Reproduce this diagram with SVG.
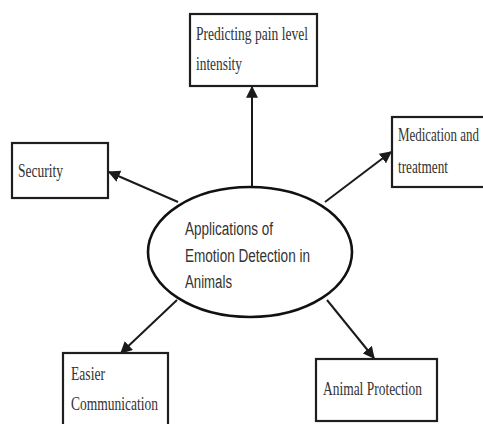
<svg xmlns="http://www.w3.org/2000/svg" width="483" height="424" viewBox="0 0 483 424">
<style>
.box{fill:#fff;stroke:#1e1e1e;stroke-width:2.2}
.ser{font-family:"Liberation Serif","Times New Roman",serif;font-size:18px;fill:#333}
.san{font-family:"Liberation Sans",Arial,sans-serif;font-size:18px;fill:#333}
.con{stroke:#1a1a1a;stroke-width:2;fill:none;marker-end:url(#ah)}
</style>
<defs>
<marker id="ah" viewBox="0 0 10 10" refX="9" refY="5" markerWidth="6" markerHeight="6" orient="auto" markerUnits="strokeWidth">
<path d="M0,0 L10,5 L0,10 Z" fill="#1a1a1a"/>
</marker>
</defs>
<rect width="483" height="424" fill="#fff"/>
<g id="connectors">
<line class="con" x1="252" y1="187" x2="252" y2="87"/>
<line class="con" x1="325" y1="202" x2="391" y2="152"/>
<line class="con" x1="178" y1="202" x2="109" y2="172"/>
<line class="con" x1="177" y1="300" x2="121" y2="353"/>
<line class="con" x1="327" y1="300" x2="374" y2="358"/>
</g>
<g id="center">
<ellipse cx="250" cy="252" rx="102" ry="65" fill="#fff" stroke="#111" stroke-width="2.6"/>
<text class="san" x="185" y="235" textLength="88" lengthAdjust="spacingAndGlyphs">Applications of</text>
<text class="san" x="185" y="262" textLength="125" lengthAdjust="spacingAndGlyphs">Emotion Detection in</text>
<text class="san" x="185" y="288" textLength="47" lengthAdjust="spacingAndGlyphs">Animals</text>
</g>
<g id="pain">
<rect class="box" x="190" y="14" width="127" height="72"/>
<text class="ser" x="196" y="40" textLength="112" lengthAdjust="spacingAndGlyphs">Predicting pain level</text>
<text class="ser" x="196" y="70" textLength="46" lengthAdjust="spacingAndGlyphs">intensity</text>
</g>
<g id="medication">
<rect class="box" x="392" y="117" width="100" height="70"/>
<text class="ser" x="398" y="141" textLength="81" lengthAdjust="spacingAndGlyphs">Medication and</text>
<text class="ser" x="398" y="173" textLength="50" lengthAdjust="spacingAndGlyphs">treatment</text>
</g>
<g id="security">
<rect class="box" x="12" y="143" width="96" height="55"/>
<text class="ser" x="18" y="177" textLength="45" lengthAdjust="spacingAndGlyphs">Security</text>
</g>
<g id="communication">
<rect class="box" x="63" y="353" width="105" height="80"/>
<text class="ser" x="71" y="380" textLength="34" lengthAdjust="spacingAndGlyphs">Easier</text>
<text class="ser" x="71" y="410" textLength="87" lengthAdjust="spacingAndGlyphs">Communication</text>
</g>
<g id="protection">
<rect class="box" x="316" y="359" width="121" height="62"/>
<text class="ser" x="323" y="395" textLength="99" lengthAdjust="spacingAndGlyphs">Animal Protection</text>
</g>
</svg>
